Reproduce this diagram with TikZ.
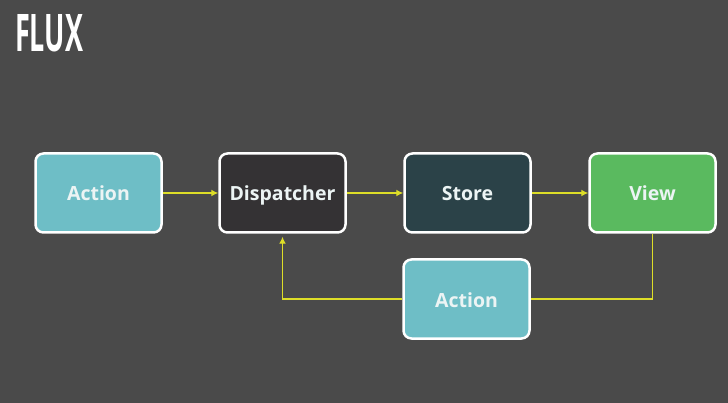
\documentclass[tikz,border=0pt]{standalone}
\usepackage{fontspec}
\usepackage{graphicx}
\setmainfont{Open Sans}
\usetikzlibrary{arrows.meta,positioning}
\definecolor{bg_grey}{RGB}{74,74,74}
\definecolor{action_teal}{RGB}{110,190,198}
\definecolor{disp_dark}{RGB}{52,50,52}
\definecolor{store_dark}{RGB}{43,66,72}
\definecolor{view_green}{RGB}{90,186,95}
\definecolor{flow_yellow}{RGB}{222,222,40}
\definecolor{label_white}{RGB}{236,244,244}
\begin{document}
\begin{tikzpicture}[x=1pt,y=-1pt,
	flux_node/.style={rectangle,rounded corners=8pt,draw=white,line width=2.5pt,minimum width=126pt,minimum height=79pt,text=label_white,text height=20pt,text depth=4pt,font=\fontsize{19.5}{22}\selectfont\bfseries},
	flow_line/.style={color=flow_yellow,line width=1.5pt},
	flow_tip/.style={-{Latex[length=7pt,width=7pt]}}]
				
				\fill[bg_grey] (0,0) rectangle (728,403);
				\useasboundingbox (0,0) rectangle (728,403);
				
				\node[anchor=north west,inner sep=0pt,text=white] (title) at (15,14) {\resizebox{68pt}{37pt}{\bfseries FLUX}};
				
				\node[flux_node, fill=action_teal] (action) at (98.5,193) {Action};
				\node[flux_node, fill=disp_dark] (dispatcher) at (282.5,193) {Dispatcher};
				\node[flux_node, fill=store_dark] (store) at (467.5,193) {Store};
				\node[flux_node, fill=view_green] (view) at (652.5,193) {View};
				\node[flux_node, fill=action_teal] (action2) at (466.5,299) {Action};
				
				\path[flow_line, flow_tip]
				(action) edge (dispatcher)
				(dispatcher) edge (store)
				(store) edge (view);
				\draw[flow_line] (view.south) |- (action2.east);
				\draw[flow_line, flow_tip, shorten >=3pt] (action2.west) -| (dispatcher.south);
			\end{tikzpicture}
\end{document}
